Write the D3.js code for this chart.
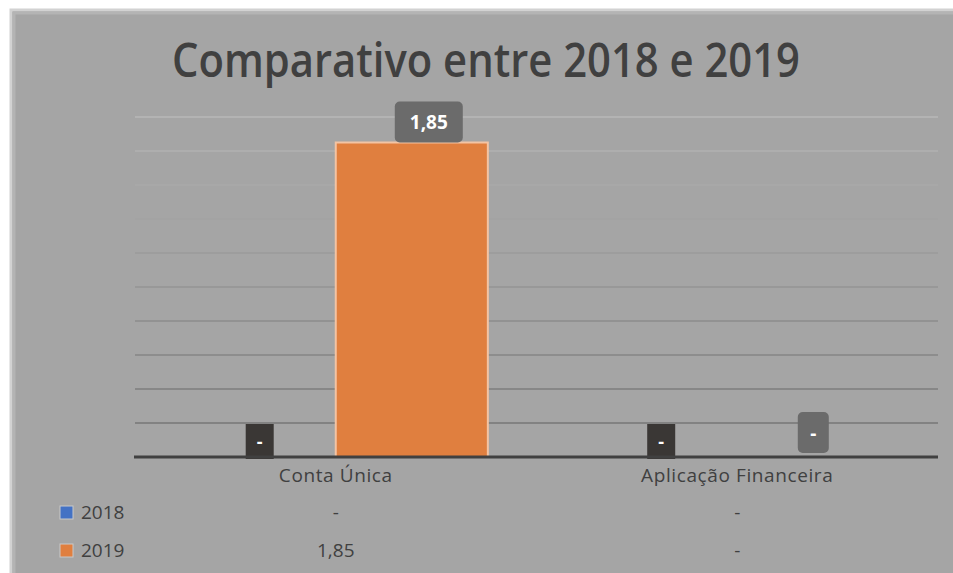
<!DOCTYPE html>
<html>
<head>
<meta charset="utf-8">
<script src="https://cdn.jsdelivr.net/npm/d3@7"></script>
<style>
  body { margin: 0; background: #fff; }
  svg { display: block; }
  text { font-family: "Open Sans", "Noto Sans", sans-serif; }
</style>
</head>
<body>
<svg id="chart" width="953" height="573"></svg>
<script>
// chart data
var categories = ["Conta Única", "Aplicação Financeira"];
var seriesNames = ["2018", "2019"];
var values2018 = [0, 0];
var values2019 = [1.85, 0];
var yMax = 2;

var COLORS = { "2018": "#4472c4", "2019": "#e07f3f" };

var W = 953, H = 573;
var plot = { left: 135, right: 938, top: 117, bottom: 457 };

var svg = d3.select("#chart");

var fmt = d3.formatLocale({ decimal: ",", thousands: ".", grouping: [3], currency: ["R$", ""] }).format(",.2f");
function label(v) { return v === 0 ? "-" : fmt(v); }

// background panel, soft edge only on top and left
svg.append("rect")
    .attr("x", 10).attr("y", 9)
    .attr("width", W - 10).attr("height", H - 9)
    .attr("fill", "#a5a5a5");
svg.append("path")
    .attr("d", "M11," + H + "V10H" + W)
    .attr("fill", "none")
    .attr("stroke", "#d2d2d2")
    .attr("stroke-width", 3);
svg.append("path")
    .attr("d", "M14," + H + "V13H" + W)
    .attr("fill", "none")
    .attr("stroke", "#b4b4b4")
    .attr("stroke-width", 3);

// title
svg.append("text")
    .attr("x", 486).attr("y", 77)
    .attr("text-anchor", "middle")
    .attr("font-size", 47)
    .attr("font-weight", 600)
    .attr("fill", "#404040")
    .attr("textLength", 628)
    .attr("lengthAdjust", "spacingAndGlyphs")
    .text("Comparativo entre 2018 e 2019");

var x0 = d3.scaleBand().domain(categories).range([plot.left, plot.right]);
var x1 = d3.scaleBand().domain(seriesNames).range([0, x0.bandwidth()]).paddingOuter(0.32);
var y = d3.scaleLinear().domain([0, yMax]).range([plot.bottom, plot.top]);

// gridlines, fading towards the top
var gridColor = d3.scaleLinear().domain([0.2, yMax]).range(["#828282", "#b3b3b3"]);
svg.append("g")
    .selectAll("line")
    .data(y.ticks(10).filter(function(d) { return d > 0; }))
    .enter()
    .append("line")
    .attr("x1", plot.left).attr("x2", plot.right)
    .attr("y1", function(d) { return y(d); })
    .attr("y2", function(d) { return y(d); })
    .attr("stroke", function(d) { return gridColor(d); })
    .attr("stroke-width", 2);

var rows = categories.map(function(c, i) {
    return { cat: c, values: [
        { key: "2018", value: values2018[i] },
        { key: "2019", value: values2019[i] }
    ] };
});

var groups = svg.append("g")
    .selectAll("g")
    .data(rows)
    .enter()
    .append("g")
    .attr("transform", function(d) { return "translate(" + x0(d.cat) + ",0)"; });

groups.selectAll("rect.bar")
    .data(function(d) { return d.values; })
    .enter()
    .append("rect")
    .attr("class", "bar")
    .attr("x", function(d) { return x1(d.key); })
    .attr("y", function(d) { return y(d.value); })
    .attr("width", x1.bandwidth())
    .attr("height", function(d) { return y(0) - y(d.value); })
    .attr("fill", function(d) { return COLORS[d.key]; })
    .attr("stroke", "#f3c4a4")
    .attr("stroke-width", function(d) { return d.value > 0 ? 2 : 0; });

// baseline
svg.append("line")
    .attr("x1", plot.left - 1).attr("x2", plot.right)
    .attr("y1", y(0)).attr("y2", y(0))
    .attr("stroke", "#404040")
    .attr("stroke-width", 3);

// data labels
groups.each(function(row) {
    var g = d3.select(this);
    row.values.forEach(function(d) {
        var cx = x1(d.key) + x1.bandwidth() / 2;
        var txt = label(d.value);
        var lg = g.append("g");
        if (d.key === "2018") {
            var bw = 28, bh = 35;
            lg.append("rect")
                .attr("x", cx - bw / 2).attr("y", y(d.value) - bh + 2)
                .attr("width", bw).attr("height", bh)
                .attr("fill", "#3a3735");
            lg.append("text")
                .attr("x", cx).attr("y", y(d.value) - bh / 2 + 8)
                .attr("text-anchor", "middle")
                .attr("font-size", 18).attr("font-weight", 700)
                .attr("fill", "#fff")
                .text(txt);
        } else {
            var w = d.value === 0 ? 31 : 68, h = 41;
            var top = y(d.value) - h - (d.value === 0 ? 4 : 0);
            var lx = cx + (d.value === 0 ? 0 : 17);
            lg.append("rect")
                .attr("x", lx - w / 2).attr("y", top)
                .attr("width", w).attr("height", h)
                .attr("rx", 5)
                .attr("fill", "#6b6b6b");
            lg.append("text")
                .attr("x", lx).attr("y", top + h / 2 + 7)
                .attr("text-anchor", "middle")
                .attr("font-size", 19).attr("font-weight", 700)
                .attr("fill", "#fff")
                .text(txt);
        }
    });
});

// category labels
svg.append("g")
    .selectAll("text")
    .data(categories)
    .enter()
    .append("text")
    .attr("x", function(d) { return x0(d) + x0.bandwidth() / 2; })
    .attr("y", 482)
    .attr("text-anchor", "middle")
    .attr("font-size", 19)
    .attr("letter-spacing", 0.6)
    .attr("fill", "#404040")
    .text(function(d) { return d; });

// data table with legend keys
var tableRows = [
    { key: "2018", values: values2018, y: 519 },
    { key: "2019", values: values2019, y: 557 }
];

tableRows.forEach(function(r) {
    svg.append("rect")
        .attr("x", 60).attr("y", r.y - 13)
        .attr("width", 13).attr("height", 13)
        .attr("fill", COLORS[r.key])
        .attr("stroke", "#c9c9c9")
        .attr("stroke-width", 1);
    svg.append("text")
        .attr("x", 81).attr("y", r.y)
        .attr("font-size", 19)
        .attr("fill", "#404040")
        .text(r.key);
    svg.append("g")
        .selectAll("text")
        .data(r.values)
        .enter()
        .append("text")
        .attr("x", function(d, i) { return x0(categories[i]) + x0.bandwidth() / 2; })
        .attr("y", r.y)
        .attr("text-anchor", "middle")
        .attr("font-size", 19)
        .attr("fill", "#404040")
        .text(function(d) { return label(d); });
});
</script>
</body>
</html>
